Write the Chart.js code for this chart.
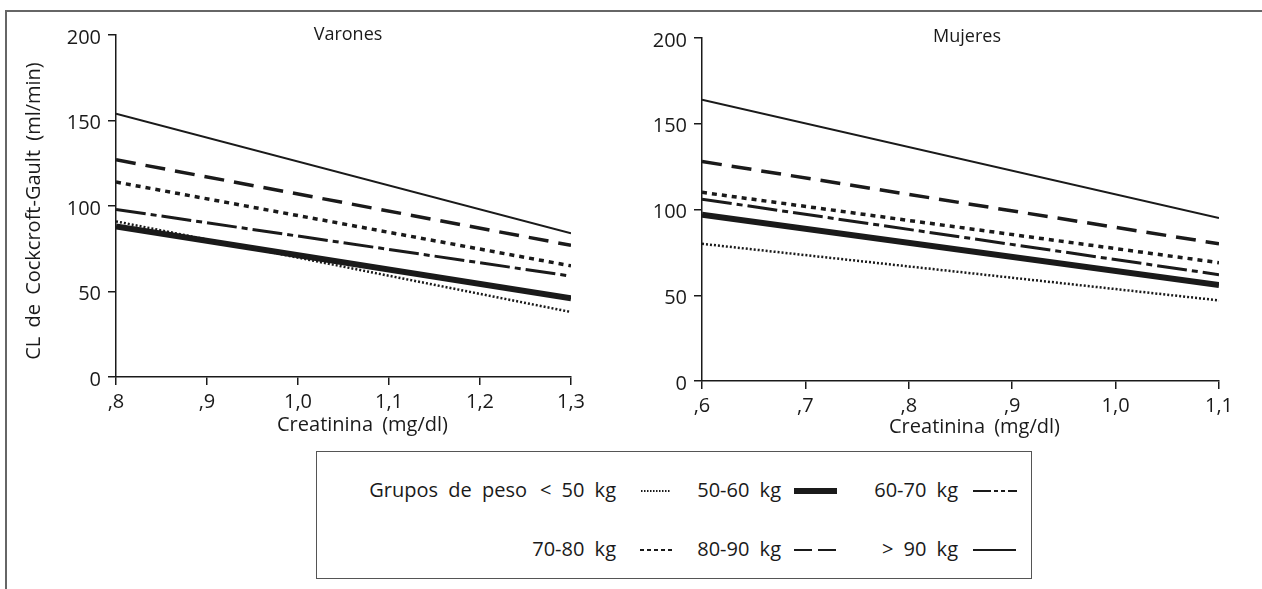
<!DOCTYPE html>
<html>
<head>
<meta charset="utf-8">
<script src="https://cdn.jsdelivr.net/npm/chart.js@4.4.1/dist/chart.umd.min.js"></script>
<style>
  body{margin:0;background:#fff;font-family:"Open Sans",Lato,sans-serif;color:#1a1a1a;}
  #wrap{position:relative;width:1262px;height:589px;overflow:hidden;}
  #frame{position:absolute;left:5px;top:10px;width:1300px;height:620px;border-left:2px solid #666;border-top:2px solid #666;}
  canvas{position:absolute;top:0;}
  #legend{position:absolute;left:316px;top:451px;width:714px;height:126px;border:1.5px solid #555;}
  .lg{position:absolute;font-size:20px;white-space:nowrap;line-height:24px;height:24px;word-spacing:5px;}
  .lg.r{text-align:right;width:240px;}
  svg{position:absolute;overflow:visible;}
</style>
</head>
<body>
<div id="wrap">
  <div id="frame"></div>
  <canvas id="cMen" width="620" height="445" style="left:0"></canvas>
  <canvas id="cWomen" width="642" height="449" style="left:620px"></canvas>
  <div id="legend"></div>
</div>
<script>
// weight groups
const groups = ['< 50 kg', '50-60 kg', '60-70 kg', '70-80 kg', '80-90 kg', '> 90 kg'];

// creatinine range of each panel (ends of the lines)
const xMen = [0.8, 1.3];
const xWomen = [0.6, 1.1];

// CL at start and end of each line, per group
const menStart = [91, 88, 98, 114, 127, 154];
const menEnd = [38, 46, 59, 65, 77, 84];
const womenStart = [80, 97, 106, 110, 128, 164];
const womenEnd = [47, 56, 62, 69, 80, 95];

// ticks
const xTicksMen = [0.8, 0.9, 1.0, 1.1, 1.2, 1.3];
const xLabelsMen = [',8', ',9', '1,0', '1,1', '1,2', '1,3'];
const xTicksWomen = [0.6, 0.7, 0.8, 0.9, 1.0, 1.1];
const xLabelsWomen = [',6', ',7', ',8', ',9', '1,0', '1,1'];
const yTicks = [0, 50, 100, 150, 200];

// line styles per group
const widths = [2.5, 6, 3, 3.5, 3.5, 2];
const dashes = [[2, 2], [], [30, 5, 6, 5], [5, 5], [20, 10], []];
const legendDashes = [[1.5, 1.5], [], [18, 3, 4, 3, 4, 3], [4, 3], [18, 6], []];

const INK = '#1a1a1a';
const FONT = '"Open Sans", Lato, sans-serif';

// panel title and axis titles, placed like in the original
const titles = {
  id: 'titles',
  beforeDraw(chart) {
    chart.ctx.wordSpacing = '3px';
  },
  afterDraw(chart, args, o) {
    const { ctx, chartArea, scales } = chart;
    ctx.save();
    ctx.wordSpacing = '4px';
    ctx.fillStyle = INK;
    ctx.textAlign = 'center';
    ctx.textBaseline = 'alphabetic';
    ctx.font = '18px ' + FONT;
    ctx.fillText(o.title, o.titleX, o.titleY);
    ctx.font = '20px ' + FONT;
    const xc = (scales.x.left + scales.x.right) / 2;
    ctx.fillText('Creatinina (mg/dl)', xc + o.xTitleDx, o.xTitleY);
    if (o.yTitle) {
      ctx.translate(o.yTitleX, (chartArea.top + chartArea.bottom) / 2 + o.yTitleDy);
      ctx.rotate(-Math.PI / 2);
      ctx.textBaseline = 'middle';
      ctx.fillText(o.yTitle, 0, 0);
    }
    ctx.restore();
  }
};

function makeChart(id, xs, starts, ends, ticks, labels, cfg) {
  const datasets = groups.map((g, i) => ({
    label: g,
    data: [{ x: xs[0], y: starts[i] }, { x: xs[1], y: ends[i] }],
    borderColor: INK,
    borderWidth: widths[i],
    borderDash: dashes[i],
    borderCapStyle: 'butt',
    pointRadius: 0,
    tension: 0,
    fill: false
  }));
  const axisGrid = { drawOnChartArea: false, drawTicks: true, tickLength: 8, color: INK, lineWidth: 1.5 };
  return new Chart(document.getElementById(id), {
    type: 'line',
    data: { datasets },
    options: {
      responsive: false,
      animation: false,
      devicePixelRatio: 1,
      layout: { padding: cfg.padding },
      plugins: {
        legend: { display: false },
        tooltip: { enabled: false },
        titles: cfg.titles
      },
      scales: {
        x: {
          type: 'linear',
          min: xs[0], max: xs[1],
          afterBuildTicks: s => { s.ticks = ticks.map(v => ({ value: v })); },
          afterFit: s => { s.height = 60; },
          ticks: { autoSkip: false, maxRotation: 0, padding: 5, color: INK, font: { family: FONT, size: 20 },
                   callback: (v, i) => labels[i] },
          grid: axisGrid,
          border: { color: INK, width: 1.5 }
        },
        y: {
          min: 0, max: 200,
          afterBuildTicks: s => { s.ticks = yTicks.map(v => ({ value: v })); },
          afterFit: s => { s.width = cfg.yWidth; },
          ticks: { padding: 7, labelOffset: 3, color: INK, font: { family: FONT, size: 20 } },
          grid: axisGrid,
          border: { color: INK, width: 1.5 }
        }
      }
    },
    plugins: [titles]
  });
}

makeChart('cMen', xMen, menStart, menEnd, xTicksMen, xLabelsMen, {
  padding: { left: 0, top: 35, right: 49, bottom: 8 }, yWidth: 116,
  titles: { title: 'Varones', titleX: 348, titleY: 40, xTitleDx: 19, xTitleY: 431,
            yTitle: 'CL de Cockcroft-Gault (ml/min)', yTitleX: 34, yTitleDy: 5 }
});
makeChart('cWomen', xWomen, womenStart, womenEnd, xTicksWomen, xLabelsWomen, {
  padding: { left: 0, top: 38, right: 43, bottom: 8 }, yWidth: 82,
  titles: { title: 'Mujeres', titleX: 347, titleY: 42, xTitleDx: 14, xTitleY: 433 }
});

// legend, laid out like the original box
const lg = document.getElementById('legend');
const rowY = [39, 98];
const legendPlace = [
  { row: 0, textEnd: 299, sample: 324, len: 30 },
  { row: 0, textEnd: 464, sample: 477, len: 43 },
  { row: 0, textEnd: 641, sample: 656, len: 44 },
  { row: 1, textEnd: 299, sample: 323, len: 34 },
  { row: 1, textEnd: 464, sample: 477, len: 42 },
  { row: 1, textEnd: 641, sample: 656, len: 43 }
];
function addText(txt, end, y) {
  const t = document.createElement('div');
  t.className = 'lg r';
  t.textContent = txt;
  t.style.left = (end - 240) + 'px';
  t.style.top = (y - 13) + 'px';
  lg.appendChild(t);
}
addText('Grupos de peso', 210, rowY[0]);
groups.forEach((g, i) => {
  const p = legendPlace[i];
  addText(g, p.textEnd, rowY[p.row]);
  const svg = document.createElementNS('http://www.w3.org/2000/svg', 'svg');
  svg.setAttribute('width', p.len);
  svg.setAttribute('height', 10);
  svg.style.left = p.sample + 'px';
  svg.style.top = (rowY[p.row] - 5) + 'px';
  const ln = document.createElementNS('http://www.w3.org/2000/svg', 'line');
  ln.setAttribute('x1', 0); ln.setAttribute('x2', p.len);
  ln.setAttribute('y1', 5); ln.setAttribute('y2', 5);
  ln.setAttribute('stroke', INK);
  ln.setAttribute('stroke-width', widths[i] === 6 ? 6 : 2);
  if (legendDashes[i].length) ln.setAttribute('stroke-dasharray', legendDashes[i].join(' '));
  svg.appendChild(ln);
  lg.appendChild(svg);
});
</script>
</body>
</html>
